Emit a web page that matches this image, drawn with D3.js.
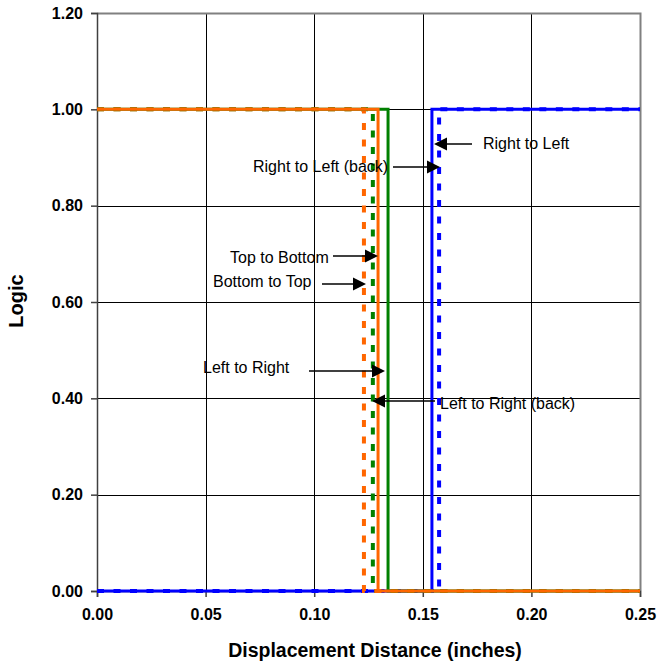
<!DOCTYPE html>
<html>
<script src="https://d3js.org/d3.v7.min.js"></script>
<body style="margin:0;background:#fff">
<svg width="658" height="663"></svg>
<script>
// step curves: [displacement, logic]
var leftToRight      = [[0, 1], [0.134, 1], [0.134, 0], [0.25, 0]],
    leftToRightBack  = [[0, 1], [0.127, 1], [0.127, 0], [0.25, 0]],
    rightToLeft      = [[0, 0], [0.1542, 0], [0.1542, 1], [0.25, 1]],
    rightToLeftBack  = [[0, 0], [0.1575, 0], [0.1575, 1], [0.25, 1]],
    topToBottom      = [[0, 1], [0.1294, 1], [0.1294, 0], [0.25, 0]],
    bottomToTop      = [[0, 1], [0.1229, 1], [0.1229, 0], [0.25, 0]];

var xTicks = [0, 0.05, 0.10, 0.15, 0.20, 0.25],
    yTicks = [0, 0.2, 0.4, 0.6, 0.8, 1.0, 1.2];

var labels = ["Right to Left", "Right to Left (back)", "Top to Bottom",
              "Bottom to Top", "Left to Right", "Left to Right (back)"];

var svg = d3.select("svg"),
    pL = 97, pR = 640, pT = 13, pB = 591;

var x = d3.scaleLinear().domain([0, 0.25]).range([pL, pR]),
    y = d3.scaleLinear().domain([0, 1.2]).range([pB, pT]);

var font = "'Liberation Sans', Arial, sans-serif";

// grid
svg.append("g").selectAll("line").data(yTicks.slice(1, -1)).enter().append("line")
   .attr("x1", pL).attr("x2", pR)
   .attr("y1", d => Math.round(y(d)) + 0.5).attr("y2", d => Math.round(y(d)) + 0.5)
   .attr("stroke", "#000");
svg.append("g").selectAll("line").data(xTicks.slice(1, -1)).enter().append("line")
   .attr("y1", pT).attr("y2", pB)
   .attr("x1", d => Math.round(x(d)) + 0.5).attr("x2", d => Math.round(x(d)) + 0.5)
   .attr("stroke", "#000");

// plot border (top, right)
svg.append("path")
   .attr("d", "M" + pL + "," + (pT + 0.5) + "H" + (pR + 0.5) + "V" + pB)
   .attr("fill", "none").attr("stroke", "#808080").attr("stroke-width", 2);

// axes
var yAxis = d3.axisLeft(y).tickValues(yTicks).tickSize(6).tickPadding(8).tickFormat(d3.format(".2f"));
var xAxis = d3.axisBottom(x).tickValues(xTicks).tickSize(6).tickPadding(12).tickFormat(d3.format(".2f"));

function styleAxis(g) {
  g.select(".domain").attr("stroke", "#404040").attr("stroke-width", 1.5);
  g.selectAll(".tick line").attr("stroke", "#404040").attr("stroke-width", 1.5);
  g.selectAll("text").attr("font-family", font).attr("font-size", 16)
   .attr("font-weight", "bold").attr("fill", "#000");
}
svg.append("g").attr("transform", "translate(" + pL + ",0)").call(yAxis).call(styleAxis);
svg.append("g").attr("transform", "translate(0," + pB + ")").call(xAxis).call(styleAxis);

// series
var line = d3.line().x(d => x(d[0])).y(d => y(d[1]));
var series = [
  {data: rightToLeft,     color: "#0000ff", dash: null},
  {data: rightToLeftBack, color: "#0000ff", dash: "7,9.5"},
  {data: leftToRightBack, color: "#008000", dash: "7,9.5"},
  {data: bottomToTop,     color: "#ff6600", dash: "7,9.5"},
  {data: leftToRight,     color: "#008000", dash: null},
  {data: topToBottom,     color: "#ff6600", dash: null}
];
svg.append("g").selectAll("path").data(series).enter().append("path")
   .attr("d", d => line(d.data))
   .attr("fill", "none")
   .attr("stroke", d => d.color)
   .attr("stroke-width", d => d.dash ? 4 : 3)
   .attr("stroke-dasharray", d => d.dash);

// annotations: label index, text position, arrow start, arrow tip (pixels)
var notes = [
  {i: 0, tx: 483, ty: 143, x1: 472, x2: 434, y: 144},
  {i: 1, tx: 253, ty: 166, x1: 393, x2: 440, y: 167},
  {i: 2, tx: 230, ty: 257, x1: 333, x2: 378, y: 256},
  {i: 3, tx: 213, ty: 281, x1: 322, x2: 366, y: 284},
  {i: 4, tx: 203, ty: 367, x1: 309, x2: 385, y: 371},
  {i: 5, tx: 440, ty: 403, x1: 435, x2: 372, y: 401}
];
var ann = svg.append("g").selectAll("g").data(notes).enter().append("g");
ann.append("text")
   .attr("x", d => d.tx).attr("y", d => d.ty).attr("dy", "0.35em")
   .attr("font-family", font).attr("font-size", 16).attr("fill", "#000")
   .text(d => labels[d.i]);
ann.append("line")
   .attr("x1", d => d.x1).attr("x2", d => d.x2 - Math.sign(d.x2 - d.x1) * 10)
   .attr("y1", d => d.y).attr("y2", d => d.y)
   .attr("stroke", "#000").attr("stroke-width", 1.5);
ann.append("path")
   .attr("d", function(d) {
     var s = Math.sign(d.x2 - d.x1);
     return "M" + d.x2 + "," + d.y + "L" + (d.x2 - s * 13) + "," + (d.y - 6.5) +
            "L" + (d.x2 - s * 13) + "," + (d.y + 6.5) + "Z";
   })
   .attr("fill", "#000");

// titles
svg.append("text").attr("x", 375).attr("y", 657)
   .attr("text-anchor", "middle").attr("font-family", font)
   .attr("font-size", 19.5).attr("font-weight", "bold")
   .text("Displacement Distance (inches)");
svg.append("text").attr("transform", "translate(23,301) rotate(-90)")
   .attr("text-anchor", "middle").attr("font-family", font)
   .attr("font-size", 20).attr("font-weight", "bold")
   .text("Logic");
</script>
</body>
</html>
